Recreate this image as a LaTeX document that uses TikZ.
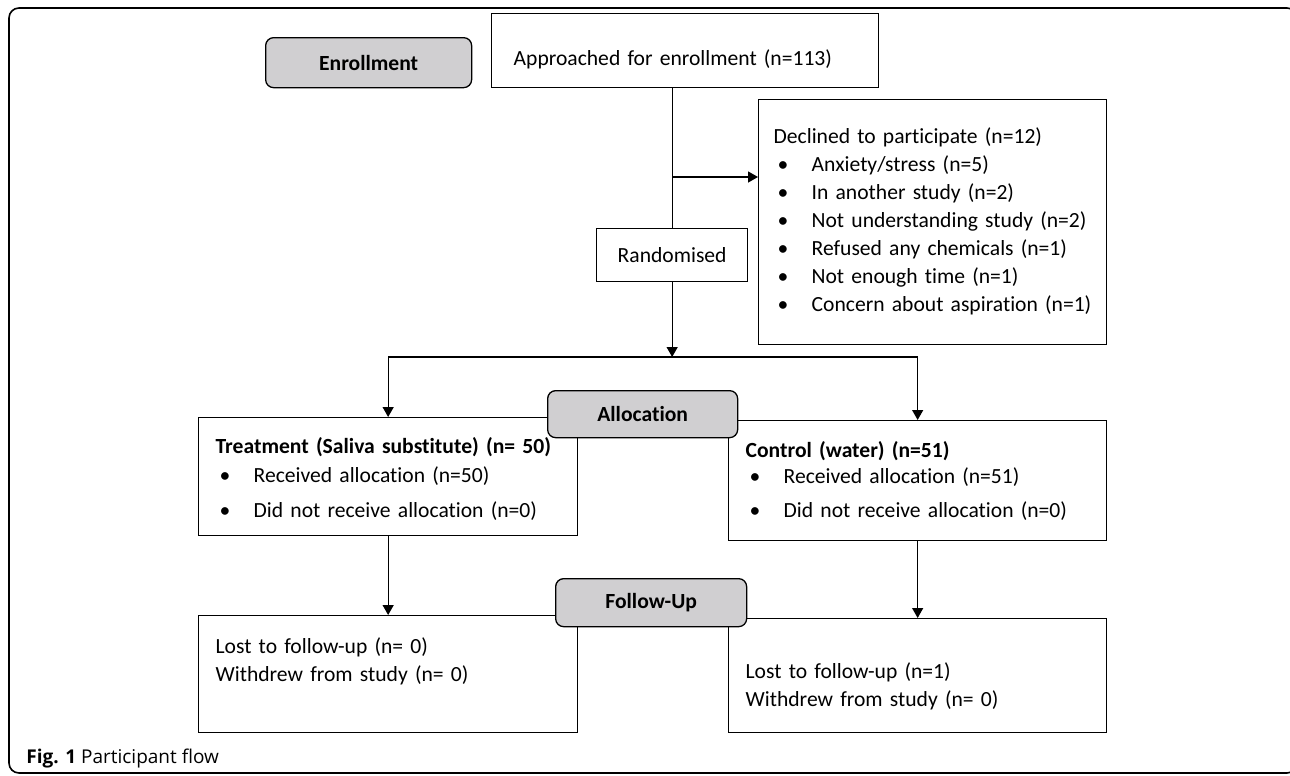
\documentclass[tikz,border=0pt]{standalone}
\usepackage{fontspec}
\setmainfont{Carlito}[Ligatures=NoCommon]
\newfontfamily\capfont{Open Sans}
\usetikzlibrary{arrows.meta}
\definecolor{labelgray}{RGB}{208,207,209}
\tikzset{
  box/.style={draw, line width=0.65pt, anchor=north west, align=left, inner ysep=0pt, inner xsep=8.5pt, font=\fontsize{10.8pt}{14pt}\selectfont},
  plainbox/.style={draw, line width=0.65pt, anchor=north west, inner sep=0pt, font=\fontsize{10.8pt}{14pt}\selectfont},
  stage/.style={draw, line width=0.65pt, fill=labelgray, rounded corners=4pt, anchor=north west, inner sep=0pt, font=\fontsize{10.8pt}{14pt}\selectfont\bfseries},
  link/.style={line width=0.65pt},
  arr/.style={line width=0.65pt, -{Triangle[length=5pt,width=5.5pt]}}
}
\newcommand{\itm}[1]{\hspace*{2pt}\makebox[17pt][l]{\textbullet}#1}
\newcommand{\tp}[1]{\rule{0pt}{#1}}
\newcommand{\bt}[1]{\rule[-#1]{0pt}{0pt}}
\begin{document}
\begin{tikzpicture}[x=0.5pt,y=-0.5pt]
    \useasboundingbox (0,0) rectangle (1290,776);
    \draw[line width=0.8pt, rounded corners=5pt] (9,8) rectangle (1297,773);
    \node[box, inner xsep=11pt, text width=171.5pt] (app) at (491,13) {\tp{26pt}Approached for enrollment (n=113)\bt{11pt}};
    \node[plainbox, minimum width=75.5pt, minimum height=26.5pt] (rand) at (596,228) {Randomised};
    \node[box, inner xsep=7.5pt, text width=159pt] (decl) at (758,99) {\tp{22pt}Declined to participate (n=12)\\
        \itm{Anxiety/stress (n=5)}\\
        \itm{In another study (n=2)}\\
        \itm{Not understanding study (n=2)}\\
        \itm{Refused any chemicals (n=1)}\\
        \itm{Not enough time (n=1)}\\
        \itm{Concern about aspiration (n=1)}\bt{16.5pt}};
    \node[box, text width=172.5pt] (treat) at (198,417) {\tp{18pt}\textbf{Treatment (Saliva substitute) (n= 50)}\\[0.5pt]
        \itm{Received allocation (n=50)}\\[3.5pt]
        \itm{Did not receive allocation (n=0)}\bt{9pt}};
    \node[box, text width=172pt] (ctrl) at (728,420) {\tp{18.5pt}\textbf{Control (water) (n=51)}\\[-1pt]
        \itm{Received allocation (n=51)}\\[3pt]
        \itm{Did not receive allocation (n=0)}\bt{11.5pt}};
    \node[box, text width=172.5pt] (fuL) at (198,615) {\tp{19pt}Lost to follow-up (n= 0)\\
        Withdrew from study (n= 0)\bt{25.5pt}};
    \node[box, text width=172pt] (fuR) at (728,618) {\tp{30pt}Lost to follow-up (n=1)\\
        Withdrew from study (n= 0)\bt{13pt}};
    \draw[link] (rand.north |- app.south) -- (rand.north);
    \coordinate (declin) at (decl.west |- 0,177);
    \draw[arr] (rand.north |- declin) -- (declin);
    \coordinate (split) at (rand.south |- 0,357);
    \draw[arr] (rand.south) -- (split);
    \draw[arr] (split) -| (treat.north);
    \draw[arr] (split) -| (ctrl.north);
    \draw[arr] (treat.south) -- (fuL.north);
    \draw[arr] (ctrl.south) -- (fuR.north);
    \node[stage, minimum width=103pt, minimum height=25pt] (enr) at (265,37) {Enrollment};
    \node[stage, minimum width=95pt, minimum height=23.5pt] (alloc) at (547,390) {Allocation};
    \node[stage, minimum width=95.5pt, minimum height=24pt] (fu) at (555,578) {Follow-Up};
    \node[anchor=base west, inner sep=0pt, font=\capfont\fontsize{9.5pt}{11pt}\selectfont] (cap) at (26,763) {\textbf{Fig. 1} Participant flow};
\end{tikzpicture}
\end{document}
